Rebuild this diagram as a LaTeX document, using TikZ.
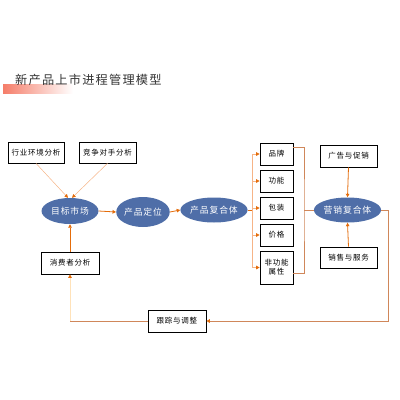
\documentclass[tikz,border=0pt]{standalone}
\usepackage{fontspec}
\setmainfont[LetterSpace=10]{Noto Sans CJK SC}
\usetikzlibrary{positioning,arrows.meta,shadows,shapes.geometric}
\definecolor{ellblue}{RGB}{79,110,168}
\definecolor{lineorg}{RGB}{228,108,10}
\definecolor{linepeach}{RGB}{246,180,135}
\definecolor{linebrown}{RGB}{208,135,90}
\definecolor{linecream}{RGB}{255,226,185}
\definecolor{barsalmon}{RGB}{245,125,105}
\tikzset{
  figbox/.style={draw, line width=0.7pt, fill=white, align=center, inner sep=1pt,
    font=\fontsize{7.5}{9.2}\selectfont,
    drop shadow={shadow xshift=0.9pt, shadow yshift=-0.9pt, opacity=0.45, fill=black}},
  figell/.style={ellipse, fill=ellblue, text=white, inner sep=0pt,
    font=\fontsize{8.8}{10}\selectfont},
  figtip/.style={-{Triangle[length=3.5pt,width=3.5pt,color=lineorg]}},
  figarrow/.style={figtip, lineorg, line width=0.8pt},
  figthin/.style={figtip, linepeach, line width=0.5pt},
  figline/.style={linebrown, line width=0.7pt},
}

\begin{document}
\begin{tikzpicture}[x=1pt, y=-1pt]
  \useasboundingbox (0,0) rectangle (400,400);
  % 标题
  \shade[left color=barsalmon, right color=white] (3,84) rectangle (73,93);
  \node[anchor=west, inner sep=0pt, text=black!80, font=\fontsize{12.2}{14}\selectfont] (title) at (15,80) {新产品上市进程管理模型};
  % 左侧
  \node[figbox, minimum width=56pt, minimum height=21pt] (hyhj) at (36,152.5) {行业环境分析};
  \node[figbox, minimum width=57pt, minimum height=21pt] (jzds) at (107.5,152.5) {竞争对手分析};
  \node[figell, minimum width=57pt, minimum height=26pt] (mbsc) at (70,211) {目标市场};
  \node[figell, minimum width=53pt, minimum height=30pt] (cpdw) at (143,212) {产品定位};
  \node[figbox, minimum width=58pt, minimum height=22pt] (xfz) at (70,263) {消费者分析};
  \node[figell, minimum width=56pt, minimum height=25pt] (cpfh) at (214,210) {产品复合体};
  % 产品要素
  \node[figbox, minimum width=33pt, minimum height=22pt] (pp) at (276.5,154) {品牌};
  \node[figbox, minimum width=33pt, minimum height=22pt] (gn) at (276.5,181) {功能};
  \node[figbox, minimum width=33pt, minimum height=22pt] (bz) at (276.5,208) {包装};
  \node[figbox, minimum width=33pt, minimum height=22pt] (jg) at (276.5,235) {价格};
  \node[figbox, minimum width=33pt, minimum height=33pt] (fgn) at (276.5,267.5) {非功能\\属性};
  % 营销
  \node[figell, minimum width=59pt, minimum height=25pt] (yx) at (347.5,210) {营销复合体};
  \node[figbox, minimum width=57pt, minimum height=22pt] (gg) at (348.5,156) {广告与促销};
  \node[figbox, minimum width=57pt, minimum height=21pt] (xs) at (348.5,257.5) {销售与服务};
  \node[figbox, minimum width=58pt, minimum height=22pt] (gz) at (177,321) {跟踪与调整};
  \coordinate (split) at (252,210);
  \coordinate (joinr) at (304,210);
  \coordinate (loopr) at (388,210);
  % 连线
  \draw[figthin] (hyhj.south) -- ([xshift=-2pt]mbsc.north);
  \draw[figthin] (jzds.south) -- ([xshift=2pt]mbsc.north);
  \draw[figarrow] (mbsc.east) -- (cpdw.west);
  \draw[figarrow] (cpdw.east) -- (cpfh.west);
  \draw[figarrow] (xfz.north) -- (mbsc.south);
  \draw[lineorg, line width=0.8pt] (cpfh.east) -- (split);
  \draw[linepeach, line width=0.7pt] (split |- pp.west) -- (split |- fgn.west);
  \foreach \n in {pp,gn,bz,jg,fgn}
    \draw[figthin, line width=0.7pt] (split |- \n.west) -- (\n.west);
  \draw[figline] ([yshift=7pt]pp.east) -| (joinr) |- ([yshift=-5.5pt]fgn.east);
  \draw[figline] (joinr) -- (yx.west);
  \draw[figarrow] (gg.south) -- (yx.north);
  \draw[figarrow] (xs.north) -- (yx.south);
  \draw[figline, figtip] (yx.east) -- (loopr) |- (gz.east);
  \draw[figline] (gz.west) -- (xfz.south |- gz.west);
  \draw[figtip, linecream, line width=0.8pt] (xfz.south |- gz.west) -- (xfz.south);
\end{tikzpicture}
\end{document}
